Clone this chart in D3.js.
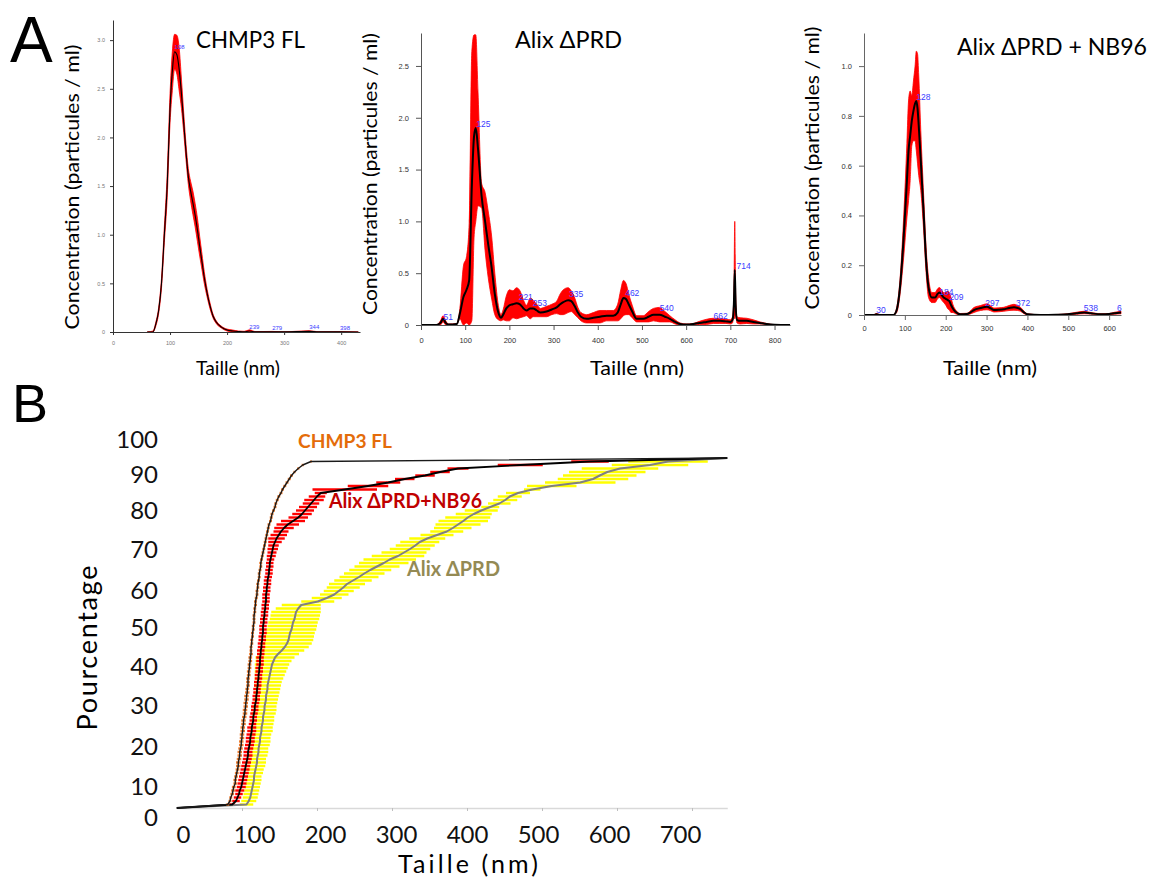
<!DOCTYPE html>
<html><head><meta charset="utf-8">
<script src="https://cdn.jsdelivr.net/npm/d3@7"></script>
<style>
html,body{margin:0;padding:0;background:#fff;}
svg text{font-family:Lato,"Open Sans",sans-serif;}
</style></head><body>
<svg id="fig" width="1155" height="879"></svg>
<script>
// ---------------- Panel A data: [size nm, concentration, error] ----------------
const chmp3Profile = [[60,0,0],[70,0.0,0.01],[75,0.08,0.02],[80,0.22,0.03],[85,0.5,0.05],[90,1.0,0.08],[95,1.5,0.12],[100,2.3,0.15],[104,2.68,0.2],[108,2.88,0.18],[112,2.85,0.2],[116,2.7,0.22],[120,2.45,0.15],[124,2.15,0.1],[128,1.85,0.08],[132,1.6,0.08],[136,1.45,0.1],[140,1.33,0.12],[144,1.2,0.12],[148,1.05,0.12],[152,0.88,0.1],[156,0.72,0.08],[160,0.56,0.06],[165,0.4,0.04],[170,0.27,0.03],[175,0.17,0.02],[180,0.11,0.015],[190,0.05,0.01],[200,0.02,0.01],[210,0.01,0.01],[220,0.005,0.005],[230,0.002,0.005],[239,0.01,0.012],[250,0.002,0.002],[279,0.003,0.003],[300,0.001,0],[344,0.006,0.008],[360,0.001,0.001],[398,0.002,0.001],[430,0,0]];
const chmp3Peaks = [[108,2.93],[239,0.05],[279,0.04],[344,0.05],[398,0.04]];

const alixProfile = [[0,0,0],[35,0,0.003],[44,0.02,0.02],[50,0.06,0.03],[56,0.02,0.02],[62,0.005,0.005],[81,0.01,0.005],[88,0.11,0.05],[96,0.27,0.3],[103,0.34,0.32],[109,0.43,0.55],[115,1.34,1.3],[120,1.82,0.98],[124,1.9,0.9],[129,1.7,0.55],[137,1.25,0.12],[145,1.0,0.28],[152,0.78,0.32],[160,0.55,0.3],[167,0.3,0.2],[175,0.12,0.07],[181,0.07,0.03],[186,0.1,0.05],[193,0.16,0.12],[200,0.19,0.15],[208,0.2,0.13],[216,0.21,0.15],[224,0.2,0.13],[232,0.16,0.08],[239,0.14,0.05],[247,0.16,0.1],[254,0.16,0.08],[262,0.14,0.06],[270,0.12,0.04],[284,0.13,0.05],[296,0.15,0.05],[307,0.17,0.06],[315,0.2,0.1],[322,0.22,0.12],[333,0.24,0.12],[340,0.23,0.1],[348,0.18,0.08],[355,0.12,0.05],[362,0.08,0.04],[375,0.06,0.04],[390,0.07,0.05],[405,0.08,0.06],[420,0.09,0.05],[435,0.09,0.05],[445,0.12,0.08],[452,0.2,0.14],[458,0.26,0.17],[464,0.25,0.15],[470,0.2,0.1],[478,0.13,0.06],[488,0.06,0.03],[503,0.06,0.03],[515,0.08,0.05],[526,0.1,0.06],[540,0.1,0.07],[552,0.08,0.05],[563,0.06,0.03],[575,0.03,0.02],[586,0.01,0.01],[600,0.005,0.005],[616,0.01,0.005],[630,0.02,0.015],[646,0.03,0.025],[662,0.04,0.025],[676,0.04,0.025],[690,0.035,0.02],[700,0.03,0.02],[705,0.05,0.03],[708,0.2,0.1],[710,0.53,0.47],[712,0.2,0.1],[715,0.05,0.03],[722,0.04,0.03],[737,0.04,0.025],[752,0.03,0.02],[767,0.02,0.01],[782,0.01,0.005],[800,0.003,0],[835,0,0]];
const alixPeaks = [[51,0.08],[125,1.94],[221,0.27],[253,0.21],[335,0.3],[462,0.31],[540,0.16],[662,0.09],[714,0.57]];

const nb96Profile = [[0,0,0],[25,0,0.002],[30,0.003,0.003],[40,0,0.001],[72,0,0],[80,0.02,0.01],[88,0.11,0.03],[97,0.31,0.08],[105,0.54,0.15],[109,0.66,0.2],[113,0.72,0.18],[117,0.78,0.1],[121,0.82,0.12],[125,0.85,0.15],[128,0.86,0.2],[131,0.83,0.22],[134,0.76,0.2],[139,0.62,0.12],[146,0.41,0.07],[152,0.22,0.05],[158,0.11,0.04],[166,0.07,0.02],[174,0.07,0.02],[180,0.085,0.02],[185,0.09,0.02],[190,0.08,0.02],[195,0.07,0.02],[200,0.065,0.025],[205,0.06,0.035],[209,0.055,0.035],[213,0.04,0.03],[218,0.025,0.015],[224,0.013,0.008],[236,0.003,0.003],[252,0.004,0.003],[260,0.01,0.006],[269,0.02,0.01],[285,0.028,0.01],[301,0.033,0.012],[310,0.027,0.01],[318,0.02,0.008],[330,0.021,0.008],[342,0.023,0.008],[355,0.028,0.01],[367,0.031,0.012],[376,0.028,0.01],[383,0.023,0.008],[392,0.01,0.005],[400,0.003,0.002],[432,0,0.001],[470,0.001,0.001],[498,0.003,0.002],[520,0.007,0.004],[539,0.01,0.005],[555,0.007,0.003],[580,0.003,0.002],[600,0.004,0.002],[613,0.007,0.004],[629,0.01,0.005]];
const nb96Peaks = [[30,0.02],[128,0.875],[184,0.092],[209,0.072],[297,0.048],[372,0.048],[538,0.028],[619,0.028]];

const a1YTicks = [0,0.5,1.0,1.5,2.0,2.5,3.0];
const a1XTicks = [0,100,200,300,400];
const a2YTicks = [0,0.5,1.0,1.5,2.0,2.5];
const a2XTicks = [0,100,200,300,400,500,600,700,800];
const a3YTicks = [0,0.2,0.4,0.6,0.8,1.0];
const a3XTicks = [0,100,200,300,400,500,600];

// ---------------- Panel B data: cumulative percentage vs size (nm) ----------------
const percentLevels = [0,1,2,3,4,5,6,7,8,9,10,11,12,13,14,15,16,17,18,19,20,21,22,23,24,25,26,27,28,29,30,31,32,33,34,35,36,37,38,39,40,41,42,43,44,45,46,47,48,49,50,51,52,53,54,55,56,57,58,59,60,61,62,63,64,65,66,67,68,69,70,71,72,73,74,75,76,77,78,79,80,81,82,83,84,85,86,87,88,89,90,91,92,93,94,95,96,97,98,99,100];
const chmp3Size = [13,81,84,85,87,88,89,91,91,92, 93,94,95,95,96,97,97,98,99,99, 100,100,101,101,102,102,103,104,104,105, 105,106,106,107,107,108,108,108,109,109, 110,110,111,111,112,112,112,113,113,114, 114,115,115,116,116,116,117,117,118,118, 119,120,120,121,121,122,123,123,124,125, 125,126,127,128,129,130,131,132,133,134, 135,136,138,139,140,142,144,145,147,149, 152,154,157,160,163,166,170,175,181,192, 747];
const chmp3Err = [0,2,2,2,2.5,2.5,2.5,2.5,2.5,2.5, 2.5,2.5,3,3,3,3,3,3,3,3, 3,3,3,3,3,3,3,3,3,3, 3,3,3,3,2.5,2.5,2.5,2.5,2.5,2.5, 2.5,2.5,2.5,2.5,2.5,2,2,2,2,2, 2,2,2,2,2,2,2,2,2,2, 2,2,2,2,2,2,2,2,2,2, 2,2,2,2,2,2,2,2,2,2, 2,2,2,2,2,2,2,2,2,2, 2,2,2,2,2,2,1.5,1.5,1.5,1, 0];
const nb96Size = [13,87,92,94,96,97,99,100,101,102, 103,104,105,106,107,108,108,109,110,111, 111,112,113,113,114,115,115,116,117,117, 118,119,119,120,120,121,121,122,122,123, 123,124,124,124,125,125,126,126,127,127, 128,128,128,129,129,130,130,131,131,132, 132,132,133,133,134,134,135,136,136,137, 137,138,139,140,141,142,144,146,149,152, 156,161,168,175,180,184,188,192,196,200, 205,237,268,295,317,344,364,388,471,564, 747];
const nb96Err = [0,4,5,5,5,6,6,6,6,6, 6,6,6,6,6,6,6,6,6,6, 6,6,6,6,5,5,5,5,5,5, 5,5,5,5,5,5,5,5,5,5, 5,5,5,5,5,5,5,5,5,5, 5,5,5,5,5,5,5,5,5,5, 5,5,5,5,5,5,5,5,5,5, 5,5,6,6,7,7,9,11,11,10, 13,15,16,13,13,12,12,11,13,11, 8,43,27,16,13,13,13,14,30,25, 0];
const alixSize = [13,106,109,111,112,113,114,115,116,116, 117,118,119,120,120,121,122,122,123,124, 124,125,126,126,127,128,128,129,130,130, 131,132,132,133,134,134,135,136,137,138, 139,140,142,144,148,153,157,160,162,163, 164,166,167,168,170,171,172,175,179,201, 213,223,229,235,240,248,256,263,271,280, 289,297,308,316,324,331,337,347,360,373, 381,388,395,401,409,419,431,443,451,457, 468,487,513,551,568,577,587,604,644,668, 747];
const alixErr = [0,9,10,10,10,10,10,10,10,10, 11,11,12,12,12,13,13,13,14,14, 14,14,15,15,15,15,15,16,16,16, 16,16,17,17,17,18,18,19,20,21, 22,23,24,26,28,30,32,33,33,33, 33,33,33,33,33,33,33,30,26,22, 20,19,20,22,24,25,26,27,28,30, 33,35,35,30,27,26,26,24,22,22, 25,30,33,30,24,22,12,15,16,16, 16,11,33,47,47,49,51,51,51,53, 0];
const bXTicks = [0,100,200,300,400,500,600,700];
const bYTicks = [0,10,20,30,40,50,60,70,80,90,100];

// ---------------- drawing ----------------
const svg = d3.select('#fig');
const fmtA = d => d === 0 ? '0' : d3.format('.1f')(d);

function ntaPanel(o) {
  const x = d3.scaleLinear().domain(o.xDomain).range(o.xRange);
  const y = d3.scaleLinear().domain(o.yDomain).range(o.yRange);
  const g = svg.append('g');
  const cid = 'clip' + o.id;
  svg.append('clipPath').attr('id', cid).append('rect')
    .attr('x', o.xRange[0]).attr('y', o.yRange[1])
    .attr('width', o.xRange[1] - o.xRange[0] + 1).attr('height', o.yRange[0] - o.yRange[1] + 1);
  const pg = g.append('g').attr('clip-path', `url(#${cid})`);
  pg.append('path').datum(o.data)
    .attr('d', d3.area().x(d => x(d[0])).y0(d => y(Math.max(0, d[1] - d[2]))).y1(d => y(d[1] + d[2])).curve(d3.curveMonotoneX))
    .attr('fill', '#ff0000').attr('stroke', '#ff0000').attr('stroke-width', 0.8);
  pg.append('path').datum(o.data)
    .attr('d', d3.line().x(d => x(d[0])).y(d => y(d[1])).curve(d3.curveMonotoneX))
    .attr('fill', 'none').attr('stroke', '#000').attr('stroke-width', o.lw);
  pg.selectAll('text.pk').data(o.peaks).join('text')
    .attr('x', d => x(d[0])).attr('y', d => y(d[1])).attr('dy', '0.35em')
    .attr('font-size', o.pkSize).attr('fill', '#3b3bff')
    .style('font-family', 'Liberation Sans, Arial, sans-serif')
    .text(d => d[0]);
  const ya = g.append('g').attr('transform', `translate(${o.xRange[0]},0)`)
    .call(d3.axisLeft(y).tickValues(o.yTicks).tickFormat(fmtA).tickSize(o.tick).tickSizeOuter(0).tickPadding(o.pad));
  const xa = g.append('g').attr('transform', `translate(0,${o.yRange[0]})`)
    .call(d3.axisBottom(x).tickValues(o.xTicks).tickSize(o.tick).tickSizeOuter(0).tickPadding(o.xpad));
  [ya, xa].forEach(a => {
    a.select('.domain').attr('stroke', o.axisCol).attr('stroke-width', 1);
    a.selectAll('.tick line').attr('stroke', o.axisCol);
    a.selectAll('.tick text').attr('font-size', o.tickFont).attr('fill', o.tickCol)
      .style('font-family', 'Liberation Sans, Arial, sans-serif');
  });
}

ntaPanel({id: 'a1', data: chmp3Profile, peaks: chmp3Peaks, xDomain: [0, 433], xRange: [113, 360],
  yDomain: [0, 3.207], yRange: [332, 20], yTicks: a1YTicks, xTicks: a1XTicks, lw: 1.1,
  tick: 3, pad: 5, xpad: 6, tickFont: 5.5, tickCol: '#777', axisCol: '#333', pkSize: 6});
ntaPanel({id: 'a2', data: alixProfile, peaks: alixPeaks, xDomain: [0, 835], xRange: [421, 790],
  yDomain: [0, 2.818], yRange: [325, 33], yTicks: a2YTicks, xTicks: a2XTicks, lw: 2,
  tick: 5, pad: 7, xpad: 8, tickFont: 7.5, tickCol: '#333', axisCol: '#555', pkSize: 8.5});
ntaPanel({id: 'a3', data: nb96Profile, peaks: nb96Peaks, xDomain: [0, 629], xRange: [864, 1121],
  yDomain: [0, 1.133], yRange: [315, 33], yTicks: a3YTicks, xTicks: a3XTicks, lw: 2,
  tick: 5, pad: 7, xpad: 6, tickFont: 7.5, tickCol: '#333', axisCol: '#666', pkSize: 8.5});

// Panel A texts
function txt(x, y, s, size, opts = {}) {
  const t = svg.append('text').attr('x', x).attr('y', y).attr('font-size', size).text(s)
    .attr('fill', opts.fill || '#000');
  if (opts.len) t.attr('textLength', opts.len).attr('lengthAdjust', opts.adjust || 'spacingAndGlyphs');
  if (opts.anchor) t.attr('text-anchor', opts.anchor);
  if (opts.weight) t.attr('font-weight', opts.weight);
  if (opts.rot) t.attr('transform', `rotate(-90,${x},${y})`);
  if (opts.family) t.style('font-family', opts.family);
  return t;
}
txt(10, 62, 'A', 64, {family: 'Liberation Sans, Arial, sans-serif'});
txt(12, 422, 'B', 54, {family: 'Liberation Sans, Arial, sans-serif'});

txt(196, 48, 'CHMP3 FL', 24, {len: 109});
txt(515, 48, 'Alix ΔPRD', 24, {len: 107});
txt(957, 55, 'Alix ΔPRD + NB96', 24, {len: 190});

txt(79, 187, 'Concentration (particules / ml)', 20, {rot: true, anchor: 'middle', len: 285});
txt(377, 174, 'Concentration (particules / ml)', 20, {rot: true, anchor: 'middle', len: 282});
txt(819, 168, 'Concentration (particules / ml)', 20, {rot: true, anchor: 'middle', len: 283});

txt(238, 375, 'Taille (nm)', 19, {anchor: 'middle', len: 84});
txt(637, 375, 'Taille (nm)', 19, {anchor: 'middle', len: 94});
txt(990, 375, 'Taille (nm)', 19, {anchor: 'middle', len: 94});

// ---------------- Panel B ----------------
const xB = d3.scaleLinear().domain([0, 747]).range([167, 727.25]);
const yB = d3.scaleLinear().domain([0, 100]).range([808, 458]);
const gB = svg.append('g');

// x axis line + small ticks
const xBAxisScale = xB.copy().domain([13.3, 747]).range([xB(13.3), xB(747)]);
const xa = gB.append('g').attr('transform', 'translate(0,808)')
  .call(d3.axisBottom(xBAxisScale).tickValues(bXTicks.slice(1)).tickSize(3).tickSizeOuter(0).tickFormat(''));
xa.select('.domain').attr('stroke', '#d9d9d9').attr('stroke-width', 1.5);
xa.selectAll('.tick line').attr('stroke', '#bfbfbf');

// tick labels (placed as in the figure)
const xBL = d3.scaleLinear().domain([0, 700]).range([183, 680]);
const xl = gB.append('g').attr('transform', 'translate(0,826)')
  .call(d3.axisBottom(xBL).tickValues(bXTicks).tickSize(0).tickPadding(0));
xl.select('.domain').remove();
xl.selectAll('text').attr('font-size', 24).attr('fill', '#111');

const yBL = d3.scaleLinear().domain(bYTicks).range([818, 787, 747, 706, 667, 628, 591, 550, 511, 475, 440]);
const yl = gB.append('g').attr('transform', 'translate(158,0)')
  .call(d3.axisLeft(yBL).tickValues(bYTicks).tickSize(0).tickPadding(0));
yl.select('.domain').remove();
yl.selectAll('text').attr('font-size', 24).attr('fill', '#111');

function series(sizes, errs) {
  return percentLevels.map((p, i) => ({p: p, s: sizes[i], e: errs[i]}));
}
const sAlix = series(alixSize, alixErr);
const sNb = series(nb96Size, nb96Err);
const sChmp = series(chmp3Size, chmp3Err);

function bars(data, color, w) {
  gB.append('g').selectAll('line').data(data.filter(d => d.e > 0)).join('line')
    .attr('x1', d => xB(d.s - d.e)).attr('x2', d => xB(d.s + d.e))
    .attr('y1', d => yB(d.p)).attr('y2', d => yB(d.p))
    .attr('stroke', color).attr('stroke-width', w);
}
function curve(data, color, w) {
  gB.append('path').datum(data)
    .attr('d', d3.line().x(d => xB(d.s)).y(d => yB(d.p)))
    .attr('fill', 'none').attr('stroke', color).attr('stroke-width', w).attr('stroke-linejoin', 'round');
}
bars(sAlix, '#ffff00', 2.4);
bars(sNb, '#ff0000', 2.4);
curve(sAlix, '#808080', 2);
curve(sNb, '#000', 1.8);
bars(sChmp, '#ed7d31', 2.4);
curve(sChmp, '#1a1a1a', 1.4);

txt(298, 448, 'CHMP3 FL', 18, {weight: 'bold', fill: '#e46c0a', len: 94});
txt(329, 508, 'Alix ΔPRD+NB96', 20, {weight: 'bold', fill: '#c00000', len: 153});
txt(407, 576, 'Alix ΔPRD', 20, {weight: 'bold', fill: '#948a54', len: 93});

txt(97, 648, 'Pourcentage', 27, {rot: true, anchor: 'middle', len: 165, adjust: 'spacing'});
txt(468, 873, 'Taille (nm)', 25, {anchor: 'middle', len: 140, adjust: 'spacing'});
</script>
</body></html>
